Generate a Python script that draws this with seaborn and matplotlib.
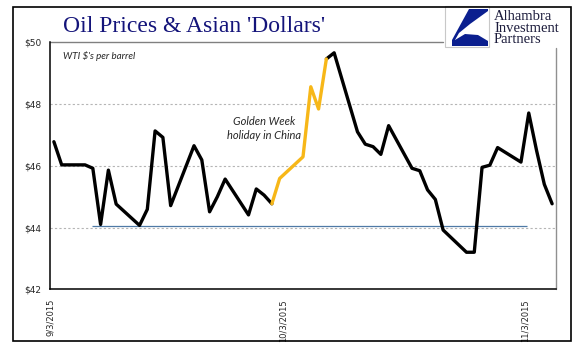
import numpy as np
import pandas as pd
import matplotlib
matplotlib.use("Agg")
import matplotlib.pyplot as plt
import matplotlib.dates as mdates
from matplotlib.patches import Rectangle, Polygon
import seaborn as sns

# ---- data ----
dates = ["2015-09-03", "2015-09-04", "2015-09-07", "2015-09-08", "2015-09-09", "2015-09-10",
         "2015-09-11", "2015-09-14", "2015-09-15", "2015-09-16", "2015-09-17", "2015-09-18",
         "2015-09-21", "2015-09-22", "2015-09-23", "2015-09-24", "2015-09-25", "2015-09-28",
         "2015-09-29", "2015-09-30", "2015-10-01", "2015-10-02", "2015-10-05", "2015-10-06",
         "2015-10-07", "2015-10-08", "2015-10-09", "2015-10-12", "2015-10-13", "2015-10-14",
         "2015-10-15", "2015-10-16", "2015-10-19", "2015-10-20", "2015-10-21", "2015-10-22",
         "2015-10-23", "2015-10-26", "2015-10-27", "2015-10-28", "2015-10-29", "2015-10-30",
         "2015-11-02", "2015-11-03", "2015-11-04", "2015-11-05", "2015-11-06"]
wti = [46.78, 46.03, 46.03, 45.92, 44.10, 45.86,
       44.76, 44.07, 44.59, 47.13, 46.92, 44.71,
       46.65, 46.19, 44.51, 45.00, 45.57, 44.41,
       45.25, 45.05, 44.77, 45.59, 46.29, 48.56,
       47.84, 49.46, 49.66, 47.10, 46.70, 46.62,
       46.37, 47.30, 45.92, 45.84, 45.22, 44.91,
       43.92, 43.20, 43.20, 45.95, 46.02, 46.59,
       46.12, 47.71, 46.50, 45.40, 44.77]
holiday_start = "2015-10-01"
holiday_end = "2015-10-08"
support_level = 44.06
support_from = "2015-09-08 08:00"
support_to = "2015-11-03 08:00"
y_ticks = [42, 44, 46, 48, 50]
x_ticks = ["2015-09-03", "2015-10-03", "2015-11-03"]
x_tick_labels = ["9/3/2015", "10/3/2015", "11/3/2015"]

df = pd.DataFrame({"date": pd.to_datetime(dates) + pd.Timedelta(hours=12), "price": wti})
d_only = pd.to_datetime(dates)
hs, he = pd.Timestamp(holiday_start), pd.Timestamp(holiday_end)
seg_a = df[d_only <= hs]
seg_b = df[(d_only >= hs) & (d_only <= he)]
seg_c = df[d_only >= he]

sns.set_style("white")
plt.rcParams['font.family'] = ['DejaVu Sans']

fig = plt.figure(figsize=(5.77, 3.61), dpi=100)
W, H = 577, 361
ax = fig.add_axes([50 / W, (H - 289.3) / H, (556 - 50) / W, (289.3 - 42.3) / H])

BLACK = "#000000"
GOLD = "#F7B718"
for seg, col in [(seg_a, BLACK), (seg_c, BLACK), (seg_b, GOLD)]:
    sns.lineplot(data=seg, x="date", y="price", ax=ax, color=col, lw=2.4,
                 estimator=None, sort=False, legend=False)

ax.set_xlim(pd.Timestamp("2015-09-03"), pd.Timestamp("2015-11-07"))
ax.set_ylim(42, 50)

# gridlines
for yv in y_ticks[1:-1]:
    ax.axhline(yv, color="#b5b5b5", lw=0.8, ls=(0, (2, 2)), zorder=0)

# support line
ax.hlines(support_level, pd.Timestamp(support_from), pd.Timestamp(support_to),
          color="#4f7aa6", lw=0.9, zorder=1)

# spines
for s in ["top", "right"]:
    ax.spines[s].set_visible(False)
for s in ["left", "bottom"]:
    ax.spines[s].set_color("black")
    ax.spines[s].set_linewidth(1.1)
ax.axhline(50, xmin=0, xmax=(443 - 50) / 506, color="#808080", lw=1.0, clip_on=False)
ax.axvline(pd.Timestamp("2015-11-07"), ymin=0, ymax=(289.3 - 48) / 247, color="#909090", lw=1.0, clip_on=False)

ax.set_yticks(y_ticks)
ax.set_yticklabels([f"${v}" for v in y_ticks], fontsize=6.5)
ax.set_xticks(pd.to_datetime(x_ticks))
ax.set_xticklabels(x_tick_labels, rotation=90, fontsize=6)
ax.tick_params(axis="both", direction="out", length=4, width=0.9, color="black", pad=2)
ax.tick_params(axis="x", pad=3)
ax.set_xlabel("")
ax.set_ylabel("")

ax.text(0.026, 0.946, "WTI $'s per barrel", transform=ax.transAxes, fontsize=7,
        style="italic", family="Lato", va="center", ha="left")
ax.text(pd.Timestamp("2015-09-30 12:00"), 47.21, "Golden Week\nholiday in China",
        fontsize=8, style="italic", family="Lato", va="center", ha="center", linespacing=1.35)

# title
fig.text(63 / W, (H - 26) / H, "Oil Prices & Asian 'Dollars'", fontsize=17,
         family="Liberation Serif", color="#14147a", va="center", ha="left")

# logo
lx0, lx1, ly0, ly1 = 445, 489, 6, 47
fig.patches.append(Rectangle((lx0 / W, (H - ly1) / H), (lx1 - lx0) / W, (ly1 - ly0) / H,
                             transform=fig.transFigure, facecolor="white",
                             edgecolor="#c8c8c8", lw=0.8))
def P(px, py):
    return (px / W, (H - py) / H)
blue = "#0b1f8f"
upper = [P(469, 9), P(488, 9), P(488, 11), P(470, 24), P(459, 33), P(455, 40), P(452, 40)]
lower = [P(455, 40), P(465, 34), P(478, 35), P(488, 41), P(488, 46), P(452, 46), P(452, 40)]
fig.patches.append(Polygon(upper, closed=True, transform=fig.transFigure, facecolor=blue, edgecolor="none"))
fig.patches.append(Polygon(lower, closed=True, transform=fig.transFigure, facecolor=blue, edgecolor="none"))
fig.text(494 / W, (H - 28) / H, "Alhambra\nInvestment\nPartners", fontsize=10.5,
         family="Liberation Serif", color="#1c1c3c", va="center", ha="left", linespacing=0.82)

# outer frame
fig.patches.append(Rectangle((13 / W, (H - 340.7) / H), (571 - 13) / W, (340.7 - 7) / H,
                             transform=fig.transFigure, facecolor="none",
                             edgecolor="black", lw=1.2))

fig.savefig("out.png", dpi=100)
